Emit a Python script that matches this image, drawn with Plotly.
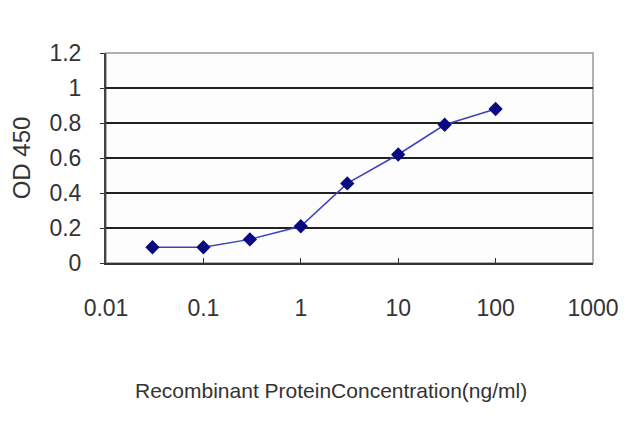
import plotly.graph_objects as go

# concentration (ng/ml) and OD 450 readings
concentration = [0.03, 0.1, 0.3, 1, 3, 10, 30, 100]
od450 = [0.09, 0.09, 0.135, 0.21, 0.455, 0.62, 0.79, 0.88]

x_ticks = [0.01, 0.1, 1, 10, 100, 1000]
x_tick_labels = ["0.01", "0.1", "1", "10", "100", "1000"]
y_ticks = [0, 0.2, 0.4, 0.6, 0.8, 1, 1.2]
y_tick_labels = ["0", "0.2", "0.4", "0.6", "0.8", "1", "1.2"]

fig = go.Figure()

fig.add_trace(go.Scatter(
    x=concentration,
    y=od450,
    mode='lines+markers',
    line=dict(color='#4040bb', width=1.5),
    marker=dict(symbol='diamond', size=11, color='#0a0a80'),
    showlegend=False
))

font_family = 'Liberation Sans, Arial, sans-serif'

# the page body has an 8px margin, so the figure is a bit smaller than the window
fig.update_layout(
    width=632,
    height=419,
    margin=dict(l=98, r=47, t=45, b=164),
    paper_bgcolor='white',
    plot_bgcolor='#fdfdfd',
    font=dict(family=font_family, color='#333333'),
    xaxis=dict(
        type='log',
        range=[-2, 3],
        tickvals=x_ticks,
        ticktext=x_tick_labels,
        tickfont=dict(size=23),
        ticks='inside',
        ticklen=5,
        tickcolor='#333',
        ticklabelstandoff=23,
        showgrid=False,
        showline=True,
        linecolor='#333',
        linewidth=2,
        zeroline=False,
        automargin=False,
    ),
    yaxis=dict(
        range=[0, 1.2],
        tickvals=y_ticks,
        ticktext=y_tick_labels,
        tickfont=dict(size=23),
        ticks='outside',
        ticklen=4,
        tickcolor='#333',
        ticklabelstandoff=14,
        showgrid=True,
        gridcolor='#222',
        gridwidth=2,
        showline=True,
        linecolor='#444',
        linewidth=2,
        zeroline=False,
        automargin=False,
        title=dict(text='OD 450', font=dict(size=24), standoff=27),
    ),
)

# x title sits a little left of the plot centre in the original
fig.add_annotation(
    text='Recombinant ProteinConcentration(ng/ml)',
    xref='paper', yref='paper', x=0.462, y=0,
    xanchor='center', yanchor='middle', yshift=-127,
    showarrow=False, font=dict(size=21)
)

# light border on the top and right of the plot area
fig.add_shape(type='rect', xref='paper', yref='paper', x0=0, x1=1, y0=0, y1=1,
              line=dict(color='#999', width=1.5), layer='below')

fig.write_html("out.html")
